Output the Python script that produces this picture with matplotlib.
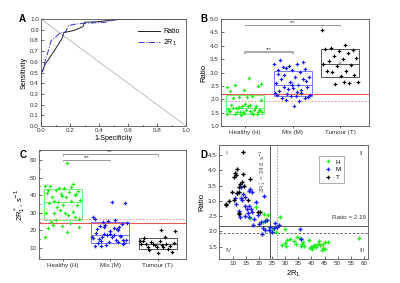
import matplotlib
matplotlib.use("Agg")
import matplotlib.pyplot as plt
from matplotlib.patches import Rectangle
import numpy as np

plt.rcParams["font.family"] = ["Liberation Sans", "DejaVu Sans"]
plt.rcParams["font.size"] = 4.5
plt.rcParams["axes.linewidth"] = 0.6
plt.rcParams["axes.edgecolor"] = "#555555"
plt.rcParams["xtick.direction"] = "in"
plt.rcParams["ytick.direction"] = "in"
plt.rcParams["xtick.major.size"] = 2
plt.rcParams["ytick.major.size"] = 2
plt.rcParams["xtick.minor.size"] = 1
plt.rcParams["ytick.minor.size"] = 1
plt.rcParams["xtick.major.width"] = 0.5
plt.rcParams["ytick.major.width"] = 0.5
plt.rcParams["xtick.major.pad"] = 1.5
plt.rcParams["ytick.major.pad"] = 1.5

# ROC curves (panel A)
roc_ratio_fpr = [0, 0, 0.01, 0.02, 0.03, 0.06, 0.10, 0.15, 0.155, 0.18, 0.22, 0.26, 0.29, 0.30, 0.40, 0.48, 0.55, 1.0]
roc_ratio_tpr = [0, 0.50, 0.51, 0.55, 0.58, 0.64, 0.72, 0.83, 0.87, 0.88, 0.89, 0.91, 0.93, 0.97, 0.975, 0.99, 1.0, 1.0]
roc_r1_fpr = [0, 0, 0.01, 0.02, 0.03, 0.05, 0.07, 0.10, 0.13, 0.17, 0.19, 0.25, 0.30, 0.45, 0.50, 0.60, 1.0]
roc_r1_tpr = [0, 0.50, 0.51, 0.55, 0.62, 0.70, 0.80, 0.83, 0.87, 0.88, 0.94, 0.955, 0.96, 0.97, 0.99, 1.0, 1.0]

groups = ["Healthy (H)", "Mix (M)", "Tumour (T)"]
short_names = ["H", "M", "T"]

# per-case values: 2R1* (s^-1) and ratio
h_r1 = [16.5, 19.0, 23.4, 27.9, 22.5, 21.5, 24.3, 25.8, 26.6, 29.8, 24.8, 30.6, 31.9, 30.0,
        28.9, 30.2, 34.2, 34.6, 35.5, 36.5, 35.9, 37.1, 38.9, 39.3, 40.2, 40.9, 41.4, 41.8,
        42.8, 42.4, 44.3, 45.2, 46.5, 43.9, 45.3, 58.3, 36.8, 40.5, 39.8, 43.2, 44.5, 33.4, 22.0]
h_ratio = [2.44, 2.80, 2.55, 2.49, 2.36, 2.31, 2.14, 2.10, 1.98, 2.08, 2.06, 1.73, 1.76, 1.62,
           1.57, 1.53, 1.60, 1.82, 1.79, 1.60, 1.54, 1.54, 1.73, 1.46, 1.43, 1.51, 1.56, 1.49,
           1.68, 1.60, 1.60, 1.66, 1.66, 1.41, 1.43, 1.79, 1.66, 1.53, 1.48, 1.55, 1.45, 1.70, 2.58]
m_r1 = [16.1, 17.3, 13.8, 14.6, 13.2, 11.0, 13.5, 21.8, 14.8, 16.1, 15.4, 17.1, 17.3, 15.8,
        14.8, 16.3, 12.9, 18.0, 20.9, 22.2, 23.0, 24.3, 21.4, 22.4, 23.7, 25.6, 26.8, 21.1,
        25.0, 35.5, 36.2, 13.0, 16.6, 11.5, 27.5, 25.9, 11.2, 12.2, 19.5, 18.8, 20.0, 17.8]
m_ratio = [3.33, 3.30, 3.22, 3.14, 3.11, 3.11, 3.03, 3.17, 2.84, 2.82, 2.74, 2.74, 2.63, 2.60,
           2.52, 2.46, 2.46, 2.42, 2.31, 2.33, 2.38, 2.16, 2.13, 2.06, 2.06, 2.13, 2.16, 1.92,
           1.98, 2.07, 1.74, 3.45, 3.38, 3.25, 2.22, 2.28, 2.90, 2.68, 2.55, 2.95, 2.24, 2.20]
t_r1 = [13.9, 11.6, 10.8, 11.3, 10.4, 13.9, 16.5, 13.5, 12.9, 14.2, 12.5, 9.5, 11.6, 12.5,
        10.4, 8.7, 7.5, 7.2, 15.8, 12.3, 12.5, 19.6, 20.3]
t_ratio = [4.60, 4.04, 3.91, 3.84, 3.79, 3.87, 3.73, 3.63, 3.55, 3.50, 3.44, 3.28, 3.25, 3.30,
           3.04, 3.01, 2.90, 2.88, 3.04, 2.60, 2.57, 2.65, 2.63]

ratio_cut = 2.19
ratio_cut_2 = 1.95
r1_cut = 24.0
r1_cut_2 = 26.8

pt_colors = ["#22ee22", "#1a1aff", "#000000"]
box_colors = ["#77ee77", "#7777ff", "#555555"]


def spread(n, width=0.76):
    """fixed column-scatter offsets, so points sit side by side inside the box"""
    return ((np.arange(n) * 0.618034) % 1 - 0.5) * width


def bracket(ax, x1, x2, y, h, color, lw):
    ax.plot([x1, x1, x2, x2], [y - h, y, y, y - h], color=color, lw=lw, solid_capstyle="butt")
    ax.text((x1 + x2) / 2, y, "***", ha="center", va="bottom", fontsize=3.5, color="#333333")


def column_panel(ax, data):
    # box = mean +/- 1 SD, line = median, square = mean
    for i, vals in enumerate(data):
        pos = i + 1
        v = np.array(vals)
        mean, sd, med = v.mean(), v.std(ddof=1), np.median(v)
        ax.add_patch(Rectangle((pos - 0.4, mean - sd), 0.8, 2 * sd, fill=False,
                               edgecolor=box_colors[i], lw=0.7, zorder=2))
        ax.plot([pos - 0.4, pos + 0.4], [med, med], color=box_colors[i], lw=0.7, zorder=2)
        ax.plot([pos], [mean], "s", mfc="none", mec=box_colors[i], ms=1.8, mew=0.35, zorder=2)
        ax.plot(pos + spread(len(v)), v, "P", color=pt_colors[i], ms=2.6, mew=0, ls="none", zorder=3)
    ax.set_xticks([1, 2, 3])
    ax.set_xticklabels(groups, fontsize=4.8)
    ax.set_xlim(0.5, 3.6)
    ax.tick_params(axis="x", direction="out", length=1.5)


fig = plt.figure(figsize=(4.0, 2.83), dpi=100)

# A: ROC
axA = fig.add_axes([0.1025, 0.5548, 0.3625, 0.378])
axA.plot([0, 1], [1, 0], color="#aaaaaa", lw=0.5)
axA.plot(roc_ratio_fpr, roc_ratio_tpr, color="#222222", lw=0.7, label="Ratio")
axA.plot(roc_r1_fpr, roc_r1_tpr, color="#3333cc", lw=0.7, ls="-.", label="2R$_1$")
axA.set_xlim(0, 1)
axA.set_ylim(0, 1)
axA.set_xticks(np.arange(0, 1.01, 0.2))
axA.set_xticks(np.arange(0.1, 1.0, 0.2), minor=True)
axA.set_yticks(np.arange(0, 1.01, 0.1))
axA.xaxis.set_major_formatter(matplotlib.ticker.FormatStrFormatter("%.1f"))
axA.yaxis.set_major_formatter(matplotlib.ticker.FormatStrFormatter("%.1f"))
axA.set_xlabel("1-Specificity", fontsize=5, labelpad=1.5)
axA.set_ylabel("Sensitivity", fontsize=5, labelpad=1.5)
axA.legend(loc="upper right", bbox_to_anchor=(1.0, 0.97), frameon=False, fontsize=5,
           handlelength=3.2, handletextpad=0.4, labelspacing=0.3)

# B: ratio
axB = fig.add_axes([0.5525, 0.5548, 0.37, 0.378])
axB.axhline(ratio_cut, color="#ee5555", lw=0.8)
axB.axhline(ratio_cut_2, color="#ee8888", lw=0.6, ls=(0, (2, 2)))
column_panel(axB, [h_ratio, m_ratio, t_ratio])
bracket(axB, 1, 3, 4.78, 0.04, "#888888", 0.6)
bracket(axB, 1, 2, 3.75, 0.04, "#aaaaaa", 1.4)
axB.set_ylim(1.0, 5.0)
axB.set_yticks(np.arange(1.0, 5.01, 0.5))
axB.yaxis.set_major_formatter(matplotlib.ticker.FormatStrFormatter("%.1f"))
axB.set_ylabel("Ratio", fontsize=5.5, labelpad=2)

# C: 2R1*
axC = fig.add_axes([0.0975, 0.0848, 0.3675, 0.385])
axC.axhline(r1_cut, color="#ee5555", lw=0.8)
axC.axhline(r1_cut_2, color="#ee8888", lw=0.6, ls=(0, (2, 2)))
column_panel(axC, [h_r1, m_r1, t_r1])
bracket(axC, 1, 3, 63.2, 0.6, "#888888", 0.6)
bracket(axC, 1, 2, 60.0, 0.6, "#888888", 0.6)
axC.set_ylim(3.8, 65.7)
axC.set_yticks(np.arange(10, 61, 10))
axC.set_yticks(np.arange(5, 66, 5), minor=True)
axC.set_ylabel("2R$_1^*$, s$^{-1}$", fontsize=5.5, labelpad=2)

# D: ratio vs 2R1*
axD = fig.add_axes([0.5475, 0.0848, 0.3725, 0.4028])
axD.axvline(r1_cut, color="#555555", lw=0.7)
axD.axvline(r1_cut_2, color="#999999", lw=0.7, ls=(0, (1.5, 1.5)))
axD.axhline(ratio_cut, color="#555555", lw=0.7)
axD.axhline(ratio_cut_2, color="#555555", lw=0.6, ls=(0, (3, 2)))
for xs, ys, c, name in zip([h_r1, m_r1, t_r1], [h_ratio, m_ratio, t_ratio], pt_colors, short_names):
    axD.plot(xs, ys, "P", color=c, ms=3, mew=0, ls="none", label=name)
axD.set_xlim(4.7, 61.6)
axD.set_ylim(1.1, 4.83)
axD.set_xticks(np.arange(10, 61, 5))
axD.set_yticks(np.arange(1.5, 4.51, 0.5))
axD.yaxis.set_major_formatter(matplotlib.ticker.FormatStrFormatter("%.1f"))
axD.set_xlabel("2R$_1$", fontsize=5.5, labelpad=1.5)
axD.set_ylabel("Ratio", fontsize=5.5, labelpad=2)
leg = axD.legend(loc="upper right", bbox_to_anchor=(0.86, 0.93), fontsize=4.5, handletextpad=0.2,
                 labelspacing=0.35, borderpad=0.5, fancybox=False, edgecolor="#888888",
                 markerscale=0.9)
leg.get_frame().set_linewidth(0.6)
axD.text(0.985, 0.345, "Ratio = 2.19", transform=axD.transAxes, ha="right", va="bottom",
         fontsize=4.5, color="#333333")
axD.text(r1_cut - 0.6, 4.72, "2R$_1^*$ = 24.6 s$^{-1}$", rotation=90, ha="right", va="top",
         fontsize=4.5, color="#555555")
axD.text(0.04, 0.95, "I", transform=axD.transAxes, fontsize=4.5, va="top", color="#555555")
axD.text(0.94, 0.95, "II", transform=axD.transAxes, fontsize=4.5, va="top", color="#555555")
axD.text(0.94, 0.05, "III", transform=axD.transAxes, fontsize=4.5, va="bottom", color="#555555")
axD.text(0.04, 0.05, "IV", transform=axD.transAxes, fontsize=4.5, va="bottom", color="#555555")

for ax in [axA, axB, axC, axD]:
    ax.tick_params(labelsize=4.5, colors="#333333")

fig.text(0.048, 0.932, "A", fontsize=7, fontweight="bold", va="center")
fig.text(0.500, 0.932, "B", fontsize=7, fontweight="bold", va="center")
fig.text(0.048, 0.452, "C", fontsize=7, fontweight="bold", va="center")
fig.text(0.500, 0.452, "D", fontsize=7, fontweight="bold", va="center")

fig.savefig("out.png", dpi=100)
